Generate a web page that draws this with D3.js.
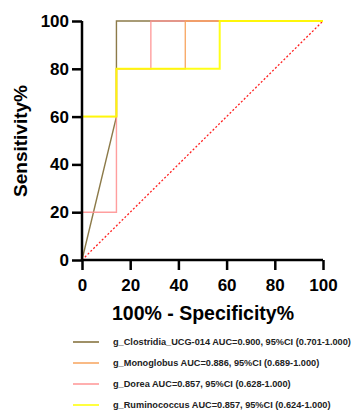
<!DOCTYPE html>
<html>
<head>
<meta charset="utf-8">
<script src="https://cdn.jsdelivr.net/npm/d3@7"></script>
<style>
  body { margin: 0; background: #fff; }
  text { font-family: "Liberation Sans", Arial, sans-serif; }
</style>
</head>
<body>
<div id="chart"></div>
<script>
// ROC points, x = 100% - specificity, y = sensitivity
var clostridiaX = [0, 14.29, 14.29, 100];
var clostridiaY = [0, 60, 100, 100];
var doreaX = [0, 0, 14.29, 14.29, 28.57, 28.57, 100];
var doreaY = [0, 20, 20, 80, 80, 100, 100];
var monoglobusX = [0, 0, 14.29, 14.29, 42.86, 42.86, 100];
var monoglobusY = [0, 60, 60, 80, 80, 100, 100];
var ruminococcusX = [0, 0, 14.29, 14.29, 57.14, 57.14, 100];
var ruminococcusY = [0, 60, 60, 80, 80, 100, 100];

var refX = [0, 100];
var refY = [0, 100];

var xTicks = [0, 20, 40, 60, 80, 100];
var yTicks = [0, 20, 40, 60, 80, 100];

var legendLabels = [
  "g_Clostridia_UCG-014 AUC=0.900, 95%CI (0.701-1.000)",
  "g_Monoglobus AUC=0.886, 95%CI (0.689-1.000)",
  "g_Dorea AUC=0.857, 95%CI (0.628-1.000)",
  "g_Ruminococcus AUC=0.857, 95%CI (0.624-1.000)"
];

(function () {
    var W = 353, H = 412;
    var margin = { top: 21, left: 82, right: 30, bottom: 152 },
        width = W - margin.left - margin.right,
        height = H - margin.top - margin.bottom;

    var svg = d3.select("#chart")
        .append("svg")
        .attr("width", W)
        .attr("height", H);

    var g = svg.append("g")
        .attr("transform", "translate(" + margin.left + "," + margin.top + ")");

    var x = d3.scaleLinear().domain([0, 100]).range([0, width]);
    var y = d3.scaleLinear().domain([0, 100]).range([height, 0]);

    var line = d3.line()
        .x(function (d) { return x(d[0]); })
        .y(function (d) { return y(d[1]); });

    function pts(xs, ys) { return xs.map(function (v, i) { return [v, ys[i]]; }); }

    // reference diagonal
    g.append("path")
        .attr("d", line(pts(refX, refY)))
        .attr("fill", "none")
        .attr("stroke", "#ff2020")
        .attr("stroke-width", 1.3)
        .attr("stroke-dasharray", "2,2");

    var series = [
        { xs: clostridiaX, ys: clostridiaY, color: "#7f6b35", w: 1.4 },
        { xs: doreaX, ys: doreaY, color: "#ff9494", w: 1.4 },
        { xs: monoglobusX, ys: monoglobusY, color: "#f7a35c", w: 1.4 },
        { xs: ruminococcusX, ys: ruminococcusY, color: "#ffff00", w: 2 }
    ];

    g.selectAll(".roc")
        .data(series)
        .enter().append("path")
        .attr("class", "roc")
        .attr("d", function (d) { return line(pts(d.xs, d.ys)); })
        .attr("fill", "none")
        .attr("stroke", function (d) { return d.color; })
        .attr("stroke-width", function (d) { return d.w; })
        .attr("stroke-opacity", 0.9);

    // AXES
    var xAxis = g.append("g")
        .attr("transform", "translate(0," + height + ")")
        .call(d3.axisBottom(x).tickValues(xTicks).tickSize(10).tickPadding(9));
    var yAxis = g.append("g")
        .call(d3.axisLeft(y).tickValues(yTicks).tickSize(10).tickPadding(3));

    [xAxis, yAxis].forEach(function (a) {
        a.select(".domain").attr("stroke", "#000").attr("stroke-width", 2.5);
        a.selectAll(".tick line").attr("stroke", "#000").attr("stroke-width", 2.5);
        a.selectAll(".tick text")
            .attr("fill", "#000")
            .style("font-size", "17px")
            .style("font-weight", "bold");
    });
    xAxis.select(".domain").attr("d", "M0,0H" + width);
    yAxis.select(".domain").attr("d", "M0," + height + "V0");

    // titles
    svg.append("text")
        .attr("x", 203)
        .attr("y", 320)
        .attr("text-anchor", "middle")
        .style("font-size", "19.5px")
        .style("font-weight", "bold")
        .text("100% - Specificity%");

    svg.append("text")
        .attr("transform", "translate(27,141) rotate(-90)")
        .attr("text-anchor", "middle")
        .style("font-size", "19px")
        .style("font-weight", "bold")
        .text("Sensitivity%");

    // LEGEND
    var legendColors = ["#7f6b35", "#f7a35c", "#ff9494", "#ffff00"];
    var leg = svg.selectAll(".leg")
        .data(legendLabels)
        .enter().append("g")
        .attr("class", "leg")
        .attr("transform", function (d, i) { return "translate(73," + (342 + i * 21) + ")"; });

    leg.append("line")
        .attr("x1", 0).attr("x2", 26)
        .attr("stroke", function (d, i) { return legendColors[i]; })
        .attr("stroke-width", 1.5);

    leg.append("text")
        .attr("x", 40)
        .attr("dy", "0.35em")
        .style("font-size", "9.2px")
        .style("font-weight", "bold")
        .style("fill", "#222")
        .text(function (d) { return d; });
})()
</script>
</body>
</html>
